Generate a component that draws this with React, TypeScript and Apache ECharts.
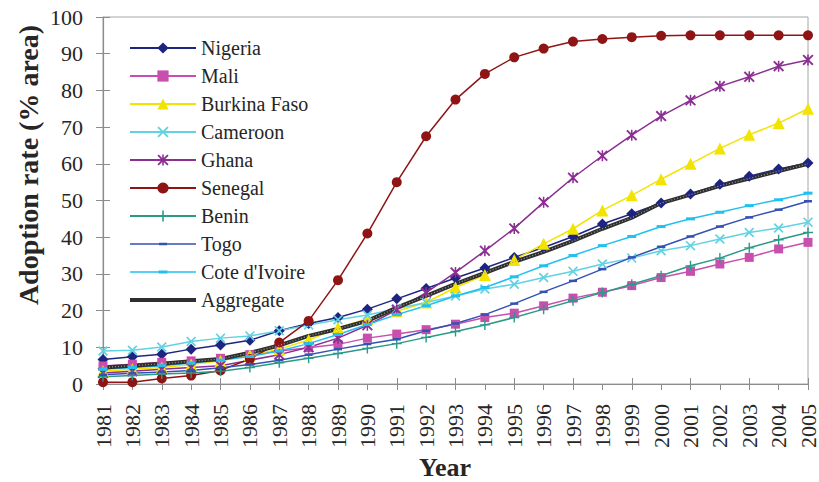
import React, { useEffect, useRef } from "react";
import * as echarts from "echarts";

// Years on the horizontal axis
const years = [
  "1981", "1982", "1983", "1984", "1985", "1986", "1987", "1988", "1989", "1990",
  "1991", "1992", "1993", "1994", "1995", "1996", "1997", "1998", "1999", "2000",
  "2001", "2002", "2003", "2004", "2005",
];

// Adoption rate (% area) by country
const nigeria = [6.7, 7.4, 8.1, 9.5, 10.6, 11.9, 14.5, 16.5, 18.1, 20.4, 23.2, 26, 28.9, 31.6, 34.5, 37.2, 40.2, 43.6, 46.4, 49.3, 51.8, 54.4, 56.6, 58.6, 60.2];
const mali = [4.9, 5.4, 5.9, 6.3, 7, 8, 9, 9.9, 10.8, 12.5, 13.6, 14.8, 16.3, 18.1, 19.3, 21.3, 23.4, 25, 26.8, 29, 30.7, 32.7, 34.5, 36.8, 38.6];
const burkinaFaso = [3.5, 4, 4.5, 5.3, 6.3, 7.8, 9.5, 12, 15.3, 17.8, 19.8, 22.2, 26.3, 29.7, 33.8, 38.2, 42.3, 47.3, 51.4, 55.8, 60, 64.2, 67.9, 71.1, 75];
const cameroon = [9, 9.2, 10.1, 11.6, 12.5, 13.1, 14.5, 16.1, 17.5, 18.8, 20.5, 22.2, 24, 25.9, 27.2, 29, 30.7, 32.7, 34.3, 36.3, 37.7, 39.5, 41.3, 42.5, 44.1];
const ghana = [3, 3.5, 4, 4.5, 5, 6.5, 8, 10, 12.5, 16, 20.2, 24.9, 30.4, 36.3, 42.4, 49.5, 56.2, 62.2, 67.8, 73, 77.3, 81.1, 83.7, 86.6, 88.3];
const senegal = [0.5, 0.5, 1.5, 2.3, 3.7, 6.8, 11.3, 17.2, 28.3, 41, 55, 67.5, 77.5, 84.5, 89, 91.4, 93.3, 94, 94.5, 94.9, 95, 95, 95, 95, 95];
const benin = [2, 2.3, 2.7, 3, 3.5, 4.5, 5.8, 7, 8.3, 9.7, 11, 12.7, 14.3, 16.1, 18.1, 20.4, 22.7, 24.9, 27.2, 29.5, 32.2, 34.3, 37.1, 39.3, 41.3];
const togo = [2.5, 2.9, 3.3, 3.7, 4.4, 5.3, 6.5, 8, 9.5, 10.9, 12.2, 14.5, 16.5, 18.9, 21.9, 25.1, 28.1, 31.3, 34.5, 37.4, 40.2, 42.9, 45.4, 47.5, 49.8];
const coteDIvoire = [4, 4.5, 5, 5.7, 6.5, 7.5, 9, 11, 13.5, 16.2, 18.9, 21.3, 24, 26.3, 29.2, 32.2, 35, 37.7, 40.2, 42.9, 45, 46.8, 48.6, 50.2, 52];
const aggregate = [4.5, 5, 5.5, 6.2, 6.8, 8.5, 10.5, 13.1, 15, 17.2, 20.8, 24, 27.3, 30.3, 33.3, 36, 39, 42.3, 45.3, 49.3, 51.6, 54, 56, 58, 60];

const FONT = "'Liberation Serif', 'Times New Roman', serif";
const TEXT = "#262626";
const AXIS = "#8c8c8c";

// Marker shapes drawn as filled outlines
const X_MARK =
  "path://M0,1.2L1.2,0L5,3.8L8.8,0L10,1.2L6.2,5L10,8.8L8.8,10L5,6.2L1.2,10L0,8.8L3.8,5Z";
const STAR_MARK =
  "path://M0,1.2L1.2,0L5,3.8L8.8,0L10,1.2L6.2,5L10,8.8L8.8,10L5,6.2L1.2,10L0,8.8L3.8,5Z M4.3,0L5.7,0L5.7,10L4.3,10Z";
const PLUS_MARK =
  "path://M4.3,0L5.7,0L5.7,4.3L10,4.3L10,5.7L5.7,5.7L5.7,10L4.3,10L4.3,5.7L0,5.7L0,4.3L4.3,4.3Z";

// Legend swatches (66 x 14 box, tiny corner anchors keep the scale 1:1)
const ANCHORS = "M0,0L0.1,0L0,0.1Z M66,14L65.9,14L66,13.9Z";
const TOGO_ICON = `path://${ANCHORS} M0,6.3L66,6.3L66,7.7L0,7.7Z M29,5.7L37,5.7L37,8.3L29,8.3Z`;
const COTE_ICON = `path://${ANCHORS} M0,6.3L66,6.3L66,7.7L0,7.7Z M28.5,5.5L37.5,5.5L37.5,8.5L28.5,8.5Z`;
const AGG_ICON = `path://${ANCHORS} M0,5L66,5L66,9L0,9Z`;

type Spec = {
  name: string;
  data: number[];
  color: string;
  symbol: string;
  size: number | number[];
  icon?: string;
};

const specs: Spec[] = [
  { name: "Nigeria", data: nigeria, color: "#1d2580", symbol: "diamond", size: 11 },
  { name: "Mali", data: mali, color: "#c94fae", symbol: "rect", size: 9 },
  { name: "Burkina Faso", data: burkinaFaso, color: "#f2e400", symbol: "triangle", size: 12 },
  { name: "Cameroon", data: cameroon, color: "#62d2e2", symbol: X_MARK, size: 10 },
  { name: "Ghana", data: ghana, color: "#8c2f93", symbol: STAR_MARK, size: 11 },
  { name: "Senegal", data: senegal, color: "#8f1414", symbol: "circle", size: 10 },
  { name: "Benin", data: benin, color: "#2a9a88", symbol: PLUS_MARK, size: 10 },
  { name: "Togo", data: togo, color: "#3552b2", symbol: "rect", size: [8, 2.5], icon: TOGO_ICON },
  { name: "Cote d'Ivoire", data: coteDIvoire, color: "#22c0f0", symbol: "rect", size: [9, 3], icon: COTE_ICON },
];

export default function App() {
  const ref = useRef<HTMLDivElement>(null);

  useEffect(() => {
    if (!ref.current) return;
    const chart = echarts.init(ref.current, undefined, { renderer: "svg" });

    const countrySeries = specs.map((s) => ({
      name: s.name,
      type: "line",
      data: s.data,
      symbol: s.symbol,
      symbolSize: s.size,
      showAllSymbol: true,
      lineStyle: { color: s.color, width: 1.5 },
      itemStyle: { color: s.color },
      emphasis: { disabled: true },
    }));

    const legendData = [
      ...specs.map((s) => (s.icon ? { name: s.name, icon: s.icon } : { name: s.name })),
      { name: "Aggregate", icon: AGG_ICON },
    ];

    const option: any = {
      animation: false,
      textStyle: { fontFamily: FONT, color: TEXT },
      grid: {
        left: 103,
        right: 5,
        top: 17,
        bottom: 98,
        show: true,
        borderColor: "#a6a6a6",
        borderWidth: 1,
        containLabel: false,
      },
      legend: {
        orient: "vertical",
        left: 129,
        top: 38,
        padding: 0,
        itemWidth: 66,
        itemHeight: 14,
        itemGap: 8,
        data: legendData,
        textStyle: { fontFamily: FONT, fontSize: 20, color: TEXT, lineHeight: 20 },
        selectedMode: false,
      },
      xAxis: [
        {
          type: "category",
          data: years,
          boundaryGap: false,
          position: "bottom",
          axisLine: { lineStyle: { color: AXIS, width: 1.2 } },
          axisTick: { length: 6, lineStyle: { color: AXIS } },
          axisLabel: {
            rotate: 90,
            margin: 20,
            fontSize: 22,
            fontFamily: FONT,
            color: TEXT,
            interval: 0,
          },
          splitLine: { show: false },
        },
        {
          type: "category",
          data: years,
          boundaryGap: false,
          position: "bottom",
          axisLine: { show: false },
          axisTick: { inside: true, length: 6, lineStyle: { color: AXIS } },
          axisLabel: { show: false },
          splitLine: { show: false },
        },
      ],
      yAxis: [
        {
          type: "value",
          min: 0,
          max: 100,
          interval: 10,
          position: "left",
          axisLine: { show: true, lineStyle: { color: AXIS, width: 1.2 } },
          axisTick: { show: true, length: 7, lineStyle: { color: AXIS } },
          axisLabel: { margin: 20, fontSize: 22, fontFamily: FONT, color: TEXT },
          splitLine: { show: false },
        },
        {
          type: "value",
          min: 0,
          max: 100,
          interval: 10,
          position: "left",
          axisLine: { show: false },
          axisTick: { show: true, inside: true, length: 7, lineStyle: { color: AXIS } },
          axisLabel: { show: false },
          splitLine: { show: false },
        },
      ],
      series: [
        ...countrySeries,
        {
          name: "Aggregate",
          type: "line",
          data: aggregate,
          symbol: "none",
          lineStyle: { color: "#2f2f2f", width: 4 },
          itemStyle: { color: "#2f2f2f" },
          emphasis: { disabled: true },
          z: 3,
        },
        {
          name: "Aggregate texture",
          type: "line",
          data: aggregate,
          symbol: "none",
          lineStyle: { color: "#9a9a9a", width: 1.2, type: [1, 2] },
          itemStyle: { color: "#9a9a9a" },
          emphasis: { disabled: true },
          z: 4,
        },
      ],
      graphic: [
        {
          type: "text",
          x: 28,
          y: 165,
          rotation: Math.PI / 2,
          style: {
            text: "Adoption rate (% area)",
            font: `bold 28px ${FONT}`,
            fill: TEXT,
            align: "center",
            verticalAlign: "middle",
          },
        },
        {
          type: "text",
          x: 445,
          y: 467,
          style: {
            text: "Year",
            font: `bold 26px ${FONT}`,
            fill: TEXT,
            align: "center",
            verticalAlign: "middle",
          },
        },
      ],
    };

    chart.setOption(option);
    return () => chart.dispose();
  }, []);

  return (
    <div
      ref={ref}
      style={{ width: 819, height: 482, position: "absolute", left: 0, top: 0, background: "#fff" }}
    />
  );
}
